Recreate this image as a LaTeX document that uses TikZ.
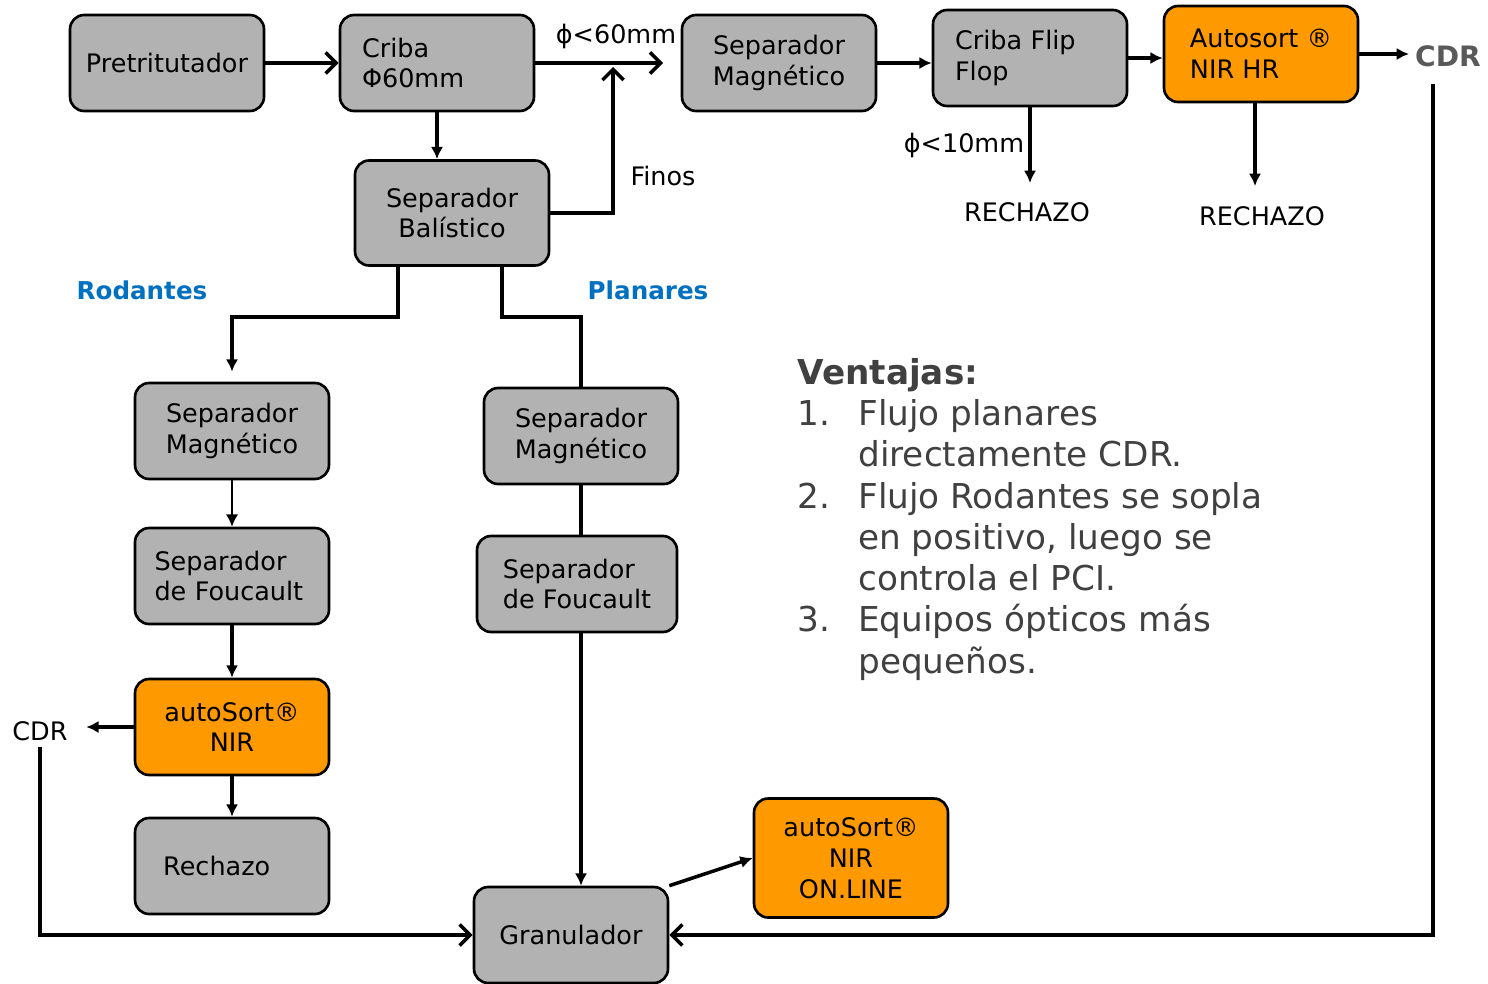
\documentclass[tikz,border=0pt]{standalone}
\usepackage{fontspec}
\setmainfont{DejaVu Sans}
\usepackage{color}
\usepackage{tikz}
\usetikzlibrary{shapes,arrows.meta,calc,positioning}

\definecolor{boxgray}{HTML}{B2B2B2}
\definecolor{sortorange}{HTML}{FF9900}
\definecolor{flowblue}{HTML}{0070C0}
\definecolor{notegray}{HTML}{404040}
\definecolor{cdrgray}{HTML}{595959}

\tikzset{
	unit/.style={draw, line width=1.5pt, rounded corners=8pt, fill=boxgray, minimum width=3.88cm, minimum height=1.92cm, align=center, inner sep=2pt, font=\fontsize{14.5}{17.5}\selectfont},
	sorter/.style={unit, fill=sortorange},
	lbl/.style={font=\fontsize{14.5}{17.5}\selectfont},
	stream/.style={line width=2pt},
	feed/.style={stream, -{Latex[length=7pt,width=7pt]}},
	thinfeed/.style={line width=1pt, -{Latex[length=7pt,width=7pt]}},
	backflow/.style={stream, -{Straight Barb[length=6pt,width=12pt]}},
	branch/.style={font=\fontsize{14}{17}\selectfont\bfseries, text=flowblue},
}

\begin{document}
\begin{tikzpicture}[x=0.02cm, y=-0.02cm]
	\useasboundingbox (0,0) rectangle (1488,984);
	\node[unit] (1) at (167,63) {Pretritutador};
	\node[unit, align=left, text width=3cm] (2) at (437,63) {Criba\\Φ60mm};
	\node[unit] (3) at (779,63) {Separador\\Magnético};
	\node[unit, align=left, text width=3cm] (4) at (1030,58) {Criba Flip\\Flop};
	\node[sorter, align=left] (5) at (1261,54) {Autosort ®\\NIR HR};
	\node[font=\fontsize{16}{19}\selectfont\bfseries, text=cdrgray] (6) at (1448,56) {CDR};
	\node[unit, minimum height=2.1cm] (7) at (452,213) {Separador\\Balístico};

	\node[unit] (8) at (232,431) {Separador\\Magnético};
	\node[unit, align=left, text width=3.1cm] (9) at (232,576) {Separador\\de Foucault};
	\node[sorter] (10) at (232,727) {autoSort®\\NIR};
	\node[unit] (11) at (232,866) {Rechazo\hspace{1.2em}};
	\node[lbl] (12) at (40,731) {CDR};

	\node[unit] (13) at (581,436) {Separador\\Magnético};
	\node[unit, align=left, minimum width=4cm] (14) at (577,584) {Separador\\de Foucault};
	\node[unit] (15) at (571,935) {Granulador};
	\node[sorter, minimum height=2.38cm] (16) at (851,858) {autoSort®\\NIR\\ON.LINE};

	\node[lbl] (17) at (1027,212) {RECHAZO};
	\node[lbl] (18) at (1262,216) {RECHAZO};
	\node[lbl] at (616,36) {ϕ<60mm};
	\node[lbl] at (964,145) {ϕ<10mm};
	\node[lbl] at (663,176) {Finos};
	\node[branch] at (142,290) {Rodantes};
	\node[branch] at (648,290) {Planares};

	\node[anchor=north west, inner sep=0pt, text=notegray, font=\fontsize{19.5}{23.5}\selectfont] at (797,355) {%
		\begin{tabular}{@{}p{1.22cm}@{}l@{}}
		\multicolumn{2}{@{}l}{\textbf{Ventajas:}}\\
		1. & Flujo planares\\
		 & directamente CDR.\\
		2. & Flujo Rodantes se sopla\\
		 & en positivo, luego se\\
		 & controla el PCI.\\
		3. & Equipos ópticos más\\
		 & pequeños.
		\end{tabular}};

	\coordinate (c1) at (663,63);
	\coordinate (c2) at (613,67);
	\coordinate (r1) at (1030,183);
	\coordinate (r2) at (1255,186);
	\coordinate (k1) at (1433,84);

	\draw[backflow] (1) -- (2);
	\draw[backflow] (2.east) -- (c1);
	\draw[feed] (2.south) -- (2.south |- 7.north);
	\draw[backflow] (7.east) -| (c2);
	\draw[feed] (3.east) -- (3.east -| 4.west);
	\draw[feed] (4.east) -- (4.east -| 5.west);
	\draw[feed] (5.east) -- (5.east -| 6.west);
	\draw[feed] (4.south -| r1) -- (r1);
	\draw[feed] (5.south -| r2) -- (r2);
	\draw[backflow] (k1) |- (15.east);

	\draw[feed, shorten >=0.2cm] (7.south -| 398,0) -- (398,317) -| (8.north);
	\draw[stream] (7.south -| 502,0) -- (502,317) -| (13.north);
	\draw[thinfeed] (8) -- (9);
	\draw[feed] (9) -- (10);
	\draw[feed] (10) -- (11);
	\draw[feed, shorten >=0.25cm] (10.west) -- (10.west -| 12.east);
	\draw[backflow] (12.south) |- (15.west);

	\draw[stream] (13.south) -- (13.south |- 14.north);
	\draw[feed] (14.south -| 13.south) -- (15.north -| 13.south);
	\draw[feed] (15.north east) -- (16.west);
\end{tikzpicture}
\end{document}
